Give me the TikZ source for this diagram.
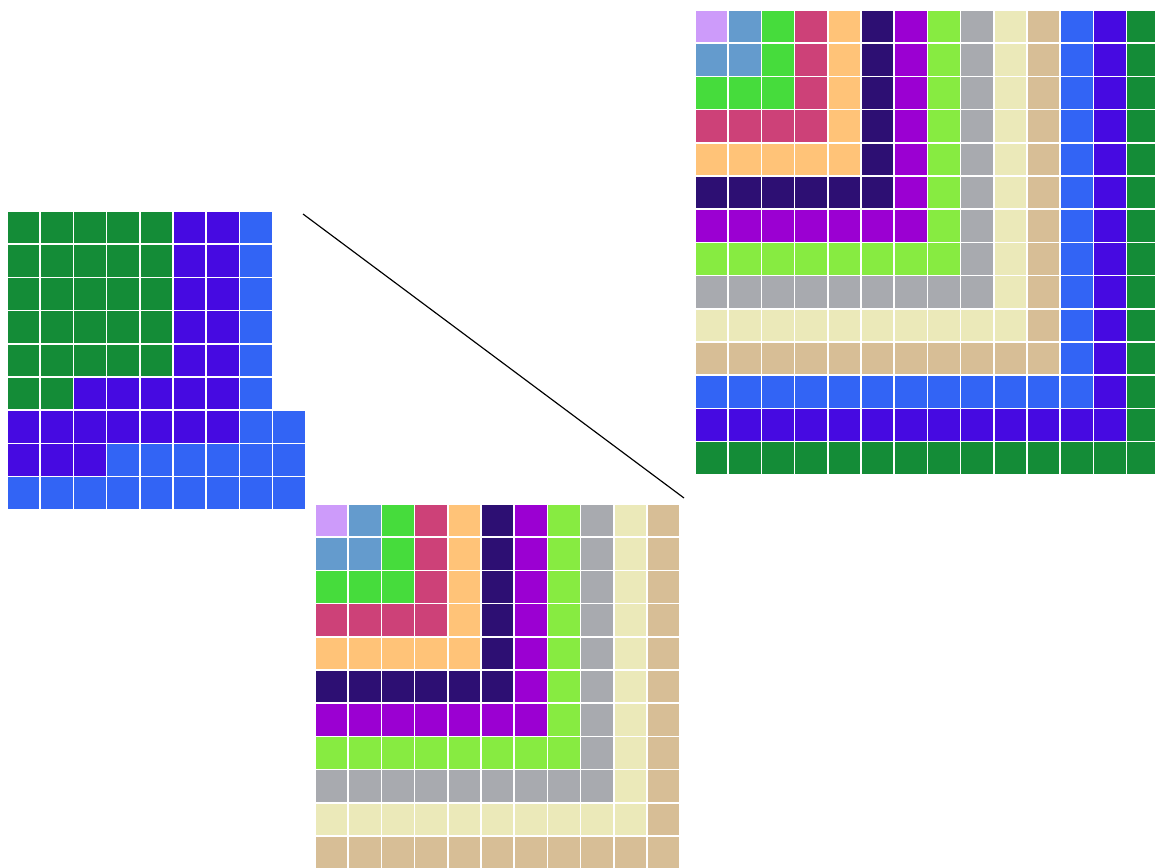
\documentclass[tikz,border=0pt]{standalone}
\usetikzlibrary{calc}
\definecolor{Gnomon0}{RGB}{205,155,250}
\definecolor{Gnomon1}{RGB}{100,155,205}
\definecolor{Gnomon2}{RGB}{70,220,60}
\definecolor{Gnomon3}{RGB}{205,65,120}
\definecolor{Gnomon4}{RGB}{255,195,120}
\definecolor{Gnomon5}{RGB}{45,15,115}
\definecolor{Gnomon6}{RGB}{155,0,210}
\definecolor{Gnomon7}{RGB}{135,235,65}
\definecolor{Gnomon8}{RGB}{168,170,175}
\definecolor{Gnomon9}{RGB}{235,233,185}
\definecolor{Gnomon10}{RGB}{215,190,150}
\definecolor{Gnomon11}{RGB}{50,100,245}
\definecolor{Gnomon12}{RGB}{70,10,225}
\definecolor{Gnomon13}{RGB}{20,140,55}
\tikzset{
  cell/.style={draw=white,line width=1.4pt},
  joinline/.style={draw=black,line width=1pt}
}

\begin{document}
\begin{tikzpicture}[x=0.3mm,y=-0.3mm]
  \useasboundingbox (0,0) rectangle (1155,867);
  \clip (0,0) rectangle (1155,867);
  % big square: 14 gnomons
  \foreach \r in {0,...,13}
    \foreach \c in {0,...,13}{
      \pgfmathtruncatemacro\k{max(\r,\c)}
      \path[cell,fill=Gnomon\k] ({695+33.2*\c},{10+33.2*\r}) rectangle ++(33.2,33.2);
    }
  % small square: 11 gnomons
  \foreach \r in {0,...,10}
    \foreach \c in {0,...,10}{
      \pgfmathtruncatemacro\k{max(\r,\c)}
      \path[cell,fill=Gnomon\k] ({315+33.2*\c},{504+33.2*\r}) rectangle ++(33.2,33.2);
    }
  % the last three gnomons, rearranged
  \foreach \r/\cols in {0/{13,13,13,13,13,12,12,11},1/{13,13,13,13,13,12,12,11},
      2/{13,13,13,13,13,12,12,11},3/{13,13,13,13,13,12,12,11},
      4/{13,13,13,13,13,12,12,11},5/{13,13,12,12,12,12,12,11},
      6/{12,12,12,12,12,12,12,11,11},7/{12,12,12,11,11,11,11,11,11},
      8/{11,11,11,11,11,11,11,11,11}}
    \foreach \k [count=\c from 0] in \cols
      \path[cell,fill=Gnomon\k] ({7+33.2*\c},{211+33.2*\r}) rectangle ++(33.2,33.2);
  \coordinate (piece-corner) at (303,214);
  \coordinate (small-corner) at (684,498);
  \draw[joinline] (piece-corner) -- (small-corner);
\end{tikzpicture}
\end{document}
